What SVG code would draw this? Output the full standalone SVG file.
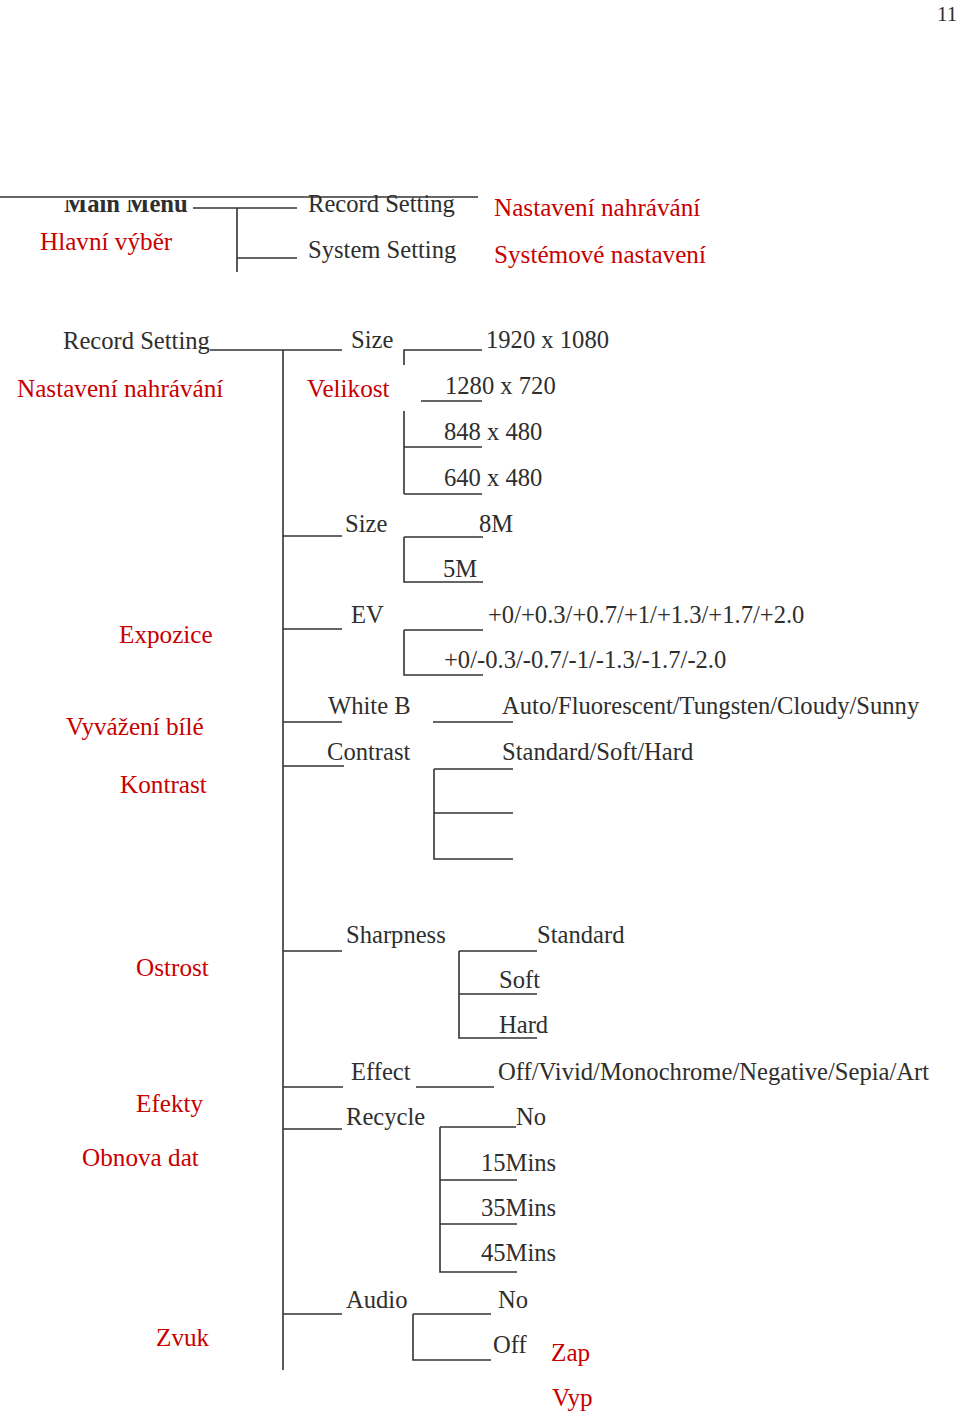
<svg xmlns="http://www.w3.org/2000/svg" width="960" height="1414" viewBox="0 0 960 1414">
<defs>
<style>
.t{font-family:"Liberation Serif","Times New Roman",serif;font-size:24.6px;fill:#2e2e2e}
.r{font-family:"Liberation Serif","Times New Roman",serif;font-size:25.2px;fill:#c80000}
.b{font-weight:bold}
.ln{stroke:#333;stroke-width:1.6;fill:none}
</style>
<clipPath id="mmclip"><rect x="0" y="200" width="300" height="30"/></clipPath>
</defs>
<rect width="960" height="1414" fill="#fff"/>
<text class="t" x="937" y="21" style="font-size:21px">11</text>

<g id="connectors">
<path class="ln" d="M0 197H478" stroke-width="2"/>
<path class="ln" d="M193 208H297M237 208V272M237 258H297"/>
<path class="ln" d="M210 350H342M283 350V1370"/>
<path class="ln" d="M404 365V350H482M421 401H482M404 411V494M404 447H482M404 494H482"/>
<path class="ln" d="M283 536H342M404 537H483M404 537V582H483"/>
<path class="ln" d="M283 629H342M404 630H483M404 630V675H483"/>
<path class="ln" d="M283 722H342M433 722H513"/>
<path class="ln" d="M283 766H344M434 769H513M434 769V859H513M434 813H513"/>
<path class="ln" d="M283 951H342M459 951H537M459 951V1038H537M459 994H537"/>
<path class="ln" d="M283 1087H343M416 1087H494"/>
<path class="ln" d="M283 1129H342M440 1127H516M440 1127V1272H517M440 1180H517M440 1224H517"/>
<path class="ln" d="M283 1314H342M413 1314H491M413 1314V1360H491"/>
</g>

<g id="main-menu"><text class="t b" x="64" y="212" clip-path="url(#mmclip)">Main Menu</text><text class="r" x="40" y="250">Hlavní výběr</text></g>
<g id="record-setting-top"><text class="t" x="308" y="212">Record Setting</text><text class="r" x="494" y="216">Nastavení nahrávání</text></g>
<g id="system-setting"><text class="t" x="308" y="258">System Setting</text><text class="r" x="494" y="263">Systémové nastavení</text></g>

<g id="record-setting"><text class="t" x="63" y="349">Record Setting</text><text class="r" x="17" y="397">Nastavení nahrávání</text></g>
<g id="video-size"><text class="t" x="351" y="348">Size</text><text class="r" x="307" y="397">Velikost</text></g>
<g id="res-1920"><text class="t" x="486" y="348">1920 x 1080</text></g>
<g id="res-1280"><text class="t" x="445" y="394">1280 x 720</text></g>
<g id="res-848"><text class="t" x="444" y="440">848 x 480</text></g>
<g id="res-640"><text class="t" x="444" y="486">640 x 480</text></g>

<g id="photo-size"><text class="t" x="345" y="532">Size</text></g>
<g id="size-8m"><text class="t" x="479" y="532">8M</text></g>
<g id="size-5m"><text class="t" x="443" y="577">5M</text></g>

<g id="ev"><text class="t" x="351" y="623">EV</text><text class="r" x="119" y="643">Expozice</text></g>
<g id="ev-plus"><text class="t" x="488" y="623">+0/+0.3/+0.7/+1/+1.3/+1.7/+2.0</text></g>
<g id="ev-minus"><text class="t" x="444" y="668">+0/-0.3/-0.7/-1/-1.3/-1.7/-2.0</text></g>

<g id="white-b"><text class="t" x="328" y="714">White B</text><text class="r" x="66" y="735">Vyvážení bílé</text></g>
<g id="wb-values"><text class="t" x="502" y="714">Auto/Fluorescent/Tungsten/Cloudy/Sunny</text></g>
<g id="contrast"><text class="t" x="327" y="760">Contrast</text><text class="r" x="120" y="793">Kontrast</text></g>
<g id="contrast-values"><text class="t" x="502" y="760">Standard/Soft/Hard</text></g>

<g id="sharpness"><text class="t" x="346" y="943">Sharpness</text><text class="r" x="136" y="976">Ostrost</text></g>
<g id="sh-standard"><text class="t" x="537" y="943">Standard</text></g>
<g id="sh-soft"><text class="t" x="499" y="988">Soft</text></g>
<g id="sh-hard"><text class="t" x="499" y="1033">Hard</text></g>

<g id="effect"><text class="t" x="351" y="1080">Effect</text><text class="r" x="136" y="1112">Efekty</text></g>
<g id="effect-values"><text class="t" x="498" y="1080">Off/Vivid/Monochrome/Negative/Sepia/Art</text></g>

<g id="recycle"><text class="t" x="346" y="1125">Recycle</text><text class="r" x="82" y="1166">Obnova dat</text></g>
<g id="rc-no"><text class="t" x="516" y="1125">No</text></g>
<g id="rc-15"><text class="t" x="481" y="1171">15Mins</text></g>
<g id="rc-35"><text class="t" x="481" y="1216">35Mins</text></g>
<g id="rc-45"><text class="t" x="481" y="1261">45Mins</text></g>

<g id="audio"><text class="t" x="346" y="1308">Audio</text><text class="r" x="156" y="1346">Zvuk</text></g>
<g id="au-no"><text class="t" x="498" y="1308">No</text></g>
<g id="au-off"><text class="t" x="493" y="1353">Off</text><text class="r" x="551" y="1361">Zap</text><text class="r" x="552" y="1406">Vyp</text></g>
</svg>
